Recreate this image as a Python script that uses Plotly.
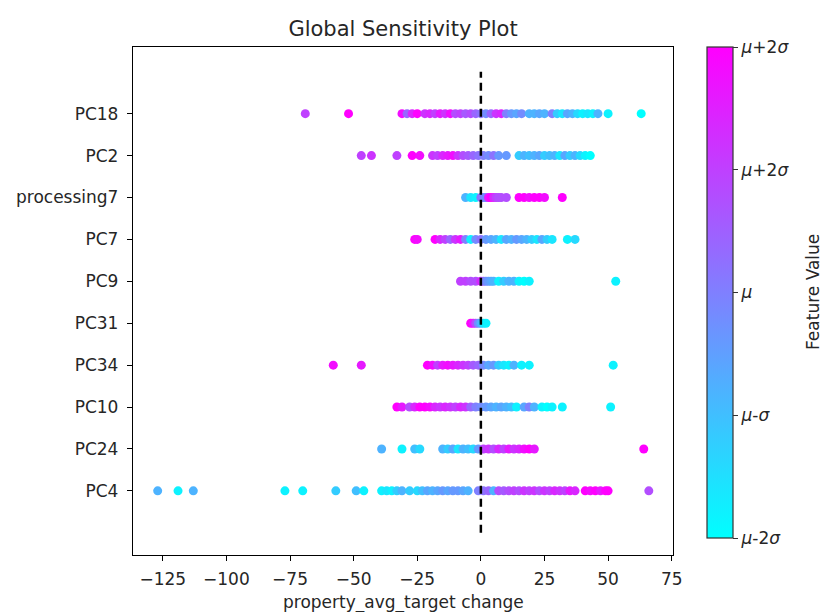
import plotly.graph_objects as go

# Features, bottom (index 0) to top
features = ["PC4", "PC24", "PC10", "PC34", "PC31", "PC9", "PC7", "processing7", "PC2", "PC18"]

pc18_x = [-69, -52, -31, -29, -27, -25, -22, -20, -18, -16, -14, -12, -10, -8, -6, -4, -2, 0, 2, 4, 6, 8,
          10, 12, 14, 16, 19, 21, 23, 25, 28, 30, 32, 34, 36, 38, 40, 42, 44, 46, 50, 63]
pc18_c = [0.75, 1.0, 0.95, 0.6, 0.85, 1.0, 0.8, 0.85, 0.75, 0.9, 0.8, 0.95, 0.7, 0.75, 0.65, 0.7, 0.6, 0.55,
          0.45, 0.6, 0.8, 0.85, 0.5, 0.4, 0.35, 0.45, 0.3, 0.3, 0.35, 0.3, 0.5, 0.2, 0.1, 0.35, 0.3, 0.15,
          0.05, 0.1, 0.05, 0.3, 0.05, 0.0]

pc2_x = [-47, -43, -33, -27, -24, -19, -17, -15, -13, -11, -9, -7, -5, -3, -1, 1, 3, 5, 7, 10, 15, 17, 19,
         21, 23, 25, 27, 29, 31, 33, 35, 37, 39, 41, 43]
pc2_c = [0.75, 0.8, 0.75, 1.0, 0.95, 0.8, 0.75, 0.85, 0.9, 0.95, 0.8, 0.7, 0.65, 0.6, 0.55, 0.5, 0.45, 0.55,
         0.4, 0.4, 0.2, 0.3, 0.25, 0.3, 0.35, 0.2, 0.25, 0.3, 0.1, 0.35, 0.2, 0.3, 0.15, 0.05, 0.0]

proc7_x = [-6, -4, -2, 0, 1, 2, 3, 4, 5, 6, 7, 8, 10, 15, 17, 19, 21, 23, 25, 32]
proc7_c = [0.3, 0.1, 0.05, 0.55, 0.5, 0.45, 0.9, 1.0, 0.85, 0.75, 0.7, 0.7, 0.7, 1.0, 1.0, 0.95, 1.0, 1.0,
           0.95, 1.0]

pc7_x = [-26, -25, -18, -16, -14, -12, -10, -8, -6, -4, -2, 0, 2, 4, 6, 8, 10, 12, 14, 16, 18, 20, 22, 24,
         26, 28, 34, 37]
pc7_c = [1.0, 0.95, 1.0, 0.85, 0.75, 0.6, 0.8, 0.9, 0.5, 0.05, 0.45, 0.55, 0.4, 0.35, 0.3, 0.1, 0.35, 0.3,
         0.4, 0.35, 0.3, 0.2, 0.1, 0.35, 0.2, 0.1, 0.05, 0.15]

pc9_x = [-8, -6, -4, -2, 0, 1, 2, 3, 4, 5, 7, 9, 11, 13, 15, 17, 19, 53]
pc9_c = [0.75, 0.75, 0.7, 0.7, 0.85, 0.6, 0.45, 0.4, 0.35, 0.3, 0.05, 0.2, 0.3, 0.3, 0.05, 0.0, 0.05, 0.05]

pc31_x = [-4, -3, -2, -1, 0, 1, 2]
pc31_c = [1.0, 0.9, 0.7, 0.45, 0.3, 0.1, 0.05]

pc34_x = [-58, -47, -21, -19, -17, -15, -13, -11, -9, -7, -5, -3, -1, 1, 3, 5, 7, 9, 11, 13, 16, 19, 52]
pc34_c = [0.95, 0.9, 1.0, 0.95, 0.75, 0.9, 0.95, 0.9, 0.85, 0.8, 0.75, 0.65, 0.6, 0.45, 0.35, 0.4, 0.2,
          0.1, 0.05, 0.3, 0.05, 0.05, 0.05]

pc10_x = [-33, -31, -28, -26, -24, -22, -20, -18, -16, -14, -12, -10, -8, -6, -4, -2, 0, 2, 4, 6, 8, 10,
          12, 14, 17, 19, 21, 24, 26, 28, 32, 51]
pc10_c = [1.0, 0.9, 0.7, 0.85, 1.0, 1.0, 0.95, 0.85, 0.8, 0.85, 0.8, 0.75, 0.85, 0.8, 0.6, 0.5, 0.45, 0.4,
          0.35, 0.3, 0.35, 0.3, 0.25, 0.05, 0.35, 0.5, 0.3, 0.05, 0.0, 0.05, 0.05, 0.05]

pc24_x = [-39, -31, -26, -24, -15, -13, -11, -9, -7, -5, -3, -1, 1, 3, 5, 7, 9, 11, 13, 15, 17, 19, 21, 64]
pc24_c = [0.3, 0.05, 0.25, 0.15, 0.3, 0.2, 0.35, 0.1, 0.3, 0.25, 0.15, 0.4, 0.75, 0.8, 0.7, 0.85, 0.75,
          0.9, 0.8, 0.85, 0.95, 1.0, 0.9, 1.0]

pc4_x = [-127, -119, -113, -77, -70, -57, -49, -46, -39, -37, -35, -33, -31, -28, -25, -23, -21, -19, -17,
         -15, -13, -11, -9, -7, -5, -1, 1, 3, 5, 7, 9, 11, 13, 15, 17, 19, 21, 23, 25, 27, 29, 31, 33, 35,
         37, 41, 43, 45, 47, 49, 50, 66]
pc4_c = [0.3, 0.05, 0.3, 0.05, 0.05, 0.2, 0.25, 0.05, 0.05, 0.1, 0.05, 0.2, 0.3, 0.2, 0.15, 0.25, 0.35,
         0.3, 0.35, 0.4, 0.35, 0.4, 0.4, 0.35, 0.3, 0.5, 0.55, 0.6, 0.3, 0.7, 0.65, 0.7, 0.75, 0.7, 0.8,
         0.75, 0.8, 0.7, 0.8, 0.75, 0.85, 0.8, 0.75, 0.9, 0.85, 1.0, 0.95, 1.0, 0.9, 1.0, 1.0, 0.7]

row_x = [pc4_x, pc24_x, pc10_x, pc34_x, pc31_x, pc9_x, pc7_x, proc7_x, pc2_x, pc18_x]
row_c = [pc4_c, pc24_c, pc10_c, pc34_c, pc31_c, pc9_c, pc7_c, proc7_c, pc2_c, pc18_c]

x_ticks = [-125, -100, -75, -50, -25, 0, 25, 50, 75]
cbar_vals = [0, 0.25, 0.5, 0.75, 1.0]
cbar_text = ["<i>μ</i>-2<i>σ</i>", "<i>μ</i>-<i>σ</i>", "<i>μ</i>", "<i>μ</i>+2<i>σ</i>", "<i>μ</i>+2<i>σ</i>"]

ref_x = [0, 0]
ref_y = [-1, 10]

FONT = "DejaVu Sans"
TXT = "#262626"
fig = go.Figure()

for i, (xs, cs) in enumerate(zip(row_x, row_c)):
    fig.add_trace(go.Scatter(
        x=xs, y=[i] * len(xs), mode="markers",
        marker=dict(size=9, color=cs, coloraxis="coloraxis", line=dict(width=0)),
        showlegend=False, hoverinfo="x",
    ))

fig.add_trace(go.Scatter(
    x=ref_x, y=ref_y, mode="lines",
    line=dict(color="black", width=2.5, dash="8px,5px"),
    showlegend=False, hoverinfo="skip",
))

fig.update_layout(
    width=823, height=612,
    margin=dict(l=133, r=150, t=47, b=57, autoexpand=False),
    paper_bgcolor="white", plot_bgcolor="white",
    font=dict(family=FONT, size=17, color=TXT),
    title=dict(text="Global Sensitivity Plot", x=0.5, xref="paper", xanchor="center",
               y=1 - 29 / 612, yref="container", yanchor="middle",
               font=dict(family=FONT, size=21, color=TXT)),
    coloraxis=dict(
        cmin=0, cmax=1,
        colorscale=[[0, "rgb(0,255,255)"], [1, "rgb(255,0,255)"]],
        colorbar=dict(
            x=(707 - 133) / 540, xanchor="left", xref="paper", xpad=0, ypad=0,
            y=(555 - 538) / 508, yanchor="bottom", yref="paper",
            len=491 / 508, lenmode="fraction",
            thickness=26, thicknessmode="pixels",
            outlinewidth=1.2, outlinecolor="#333333",
            tickvals=cbar_vals, ticktext=cbar_text,
            ticks="outside", ticklen=5, tickwidth=1.2, tickcolor="#333333",
            tickfont=dict(family=FONT, size=17, color=TXT),
        ),
    ),
    annotations=[
        dict(text="Feature Value", textangle=-90, showarrow=False,
             xref="paper", yref="paper", x=(813 - 133) / 540, y=(555 - 292) / 508,
             xanchor="center", yanchor="middle",
             font=dict(family=FONT, size=17, color=TXT)),
        dict(text="property_avg_target change", showarrow=False,
             xref="paper", yref="paper", x=0.5, y=(555 - 602) / 508,
             xanchor="center", yanchor="middle",
             font=dict(family=FONT, size=17, color=TXT)),
    ],
)

fig.update_xaxes(
    range=[-136.7, 75.5], tickvals=x_ticks, ticktext=[f"\u2212{abs(v)}" if v < 0 else str(v) for v in x_ticks],
    showgrid=False, zeroline=False, automargin=False,
    showline=True, linecolor="black", linewidth=1.3, mirror=True,
    ticks="outside", ticklen=5, tickwidth=1.3, tickcolor="black",
    ticklabelstandoff=3,
    tickfont=dict(family=FONT, size=17, color=TXT),
)
fig.update_yaxes(
    range=[-1.53, 10.59], tickvals=list(range(len(features))), ticktext=features,
    showgrid=False, zeroline=False, automargin=False,
    showline=True, linecolor="black", linewidth=1.3, mirror=True,
    ticks="outside", ticklen=5, tickwidth=1.3, tickcolor="black",
    ticklabelstandoff=5,
    tickfont=dict(family=FONT, size=17, color=TXT),
)

fig.write_html("out.html", config={"displayModeBar": False},
               post_script="document.body.style.margin='0';document.body.style.overflow='hidden';")
